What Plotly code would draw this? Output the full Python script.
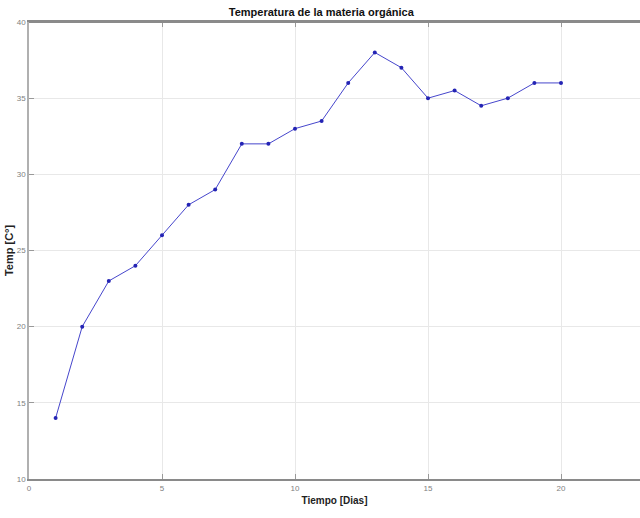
import plotly.graph_objects as go

dias = [1, 2, 3, 4, 5, 6, 7, 8, 9, 10, 11, 12, 13, 14, 15, 16, 17, 18, 19, 20]
temp = [14, 20, 23, 24, 26, 28, 29, 32, 32, 33, 33.5, 36, 38, 37, 35, 35.5, 34.5, 35, 36, 36]
x_ticks = [0, 5, 10, 15, 20]
y_ticks = [10, 15, 20, 25, 30, 35, 40]

fig = go.Figure()
fig.add_trace(go.Scatter(
    x=dias, y=temp, mode="lines+markers",
    line=dict(color="#4646cc", width=1),
    marker=dict(color="#2424b4", size=4),
    showlegend=False,
))

narrow = "Liberation Sans Narrow, Arial Narrow, Liberation Sans, sans-serif"
tickfont = dict(family=narrow, size=8, color="#808080")
fig.update_layout(
    width=640, height=518,
    margin=dict(l=29, r=0, t=22, b=39),
    paper_bgcolor="white", plot_bgcolor="white",
    title=dict(text="<b>Temperatura de la materia orgánica</b>", x=0.502, xanchor="center",
               xref="container", y=1 - 12 / 518, yanchor="middle",
               font=dict(family=narrow, size=11, color="#111111")),
    xaxis=dict(range=[0, 22.97], tickvals=x_ticks, tickfont=tickfont,
               showgrid=True, gridcolor="#e8e8e8", gridwidth=1, zeroline=False,
               showline=True, linecolor="#8a8a8a", linewidth=2, mirror="ticks",
               ticks="inside", ticklen=5, tickcolor="#999999",
               title=dict(text="<b>Tiempo [Dias]</b>", standoff=5,
                          font=dict(family=narrow, size=10, color="#222222"))),
    yaxis=dict(range=[10, 40], tickvals=y_ticks, tickfont=tickfont,
               showgrid=True, gridcolor="#e8e8e8", gridwidth=1, zeroline=False,
               showline=True, linecolor="#b0b0b0", linewidth=1.5,
               ticks="inside", ticklen=5, tickcolor="#999999",
               title=dict(text="<b>Temp [C°]</b>", standoff=1,
                          font=dict(family="Liberation Sans, Arial, sans-serif", size=11, color="#222222"))),
)
fig.add_shape(type="line", xref="paper", yref="paper", x0=0, x1=1, y0=1, y1=1,
              line=dict(color="#8a8a8a", width=2))
fig.write_html("out.html", config={"displayModeBar": False},
               post_script="document.body.style.margin='0';")
